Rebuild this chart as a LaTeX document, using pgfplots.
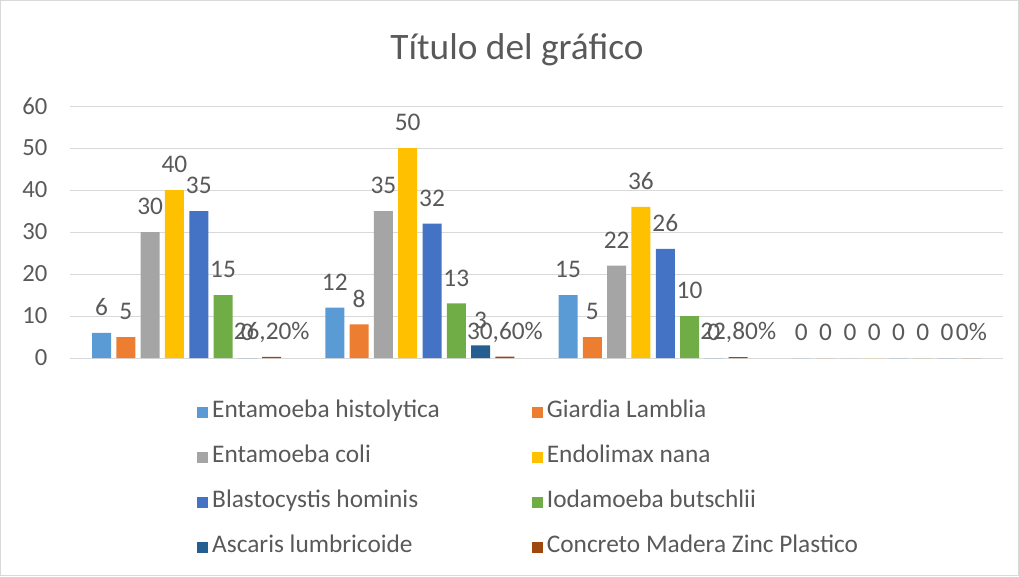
\documentclass[border=0pt]{standalone}
\usepackage{pgfplots}
\pgfplotsset{compat=1.18}
\usepackage{fontspec}
\setmainfont{Carlito}
\newlength\PX \setlength\PX{0.75pt}
\definecolor{c1}{HTML}{5B9BD5}
\definecolor{c2}{HTML}{ED7D31}
\definecolor{c3}{HTML}{A5A5A5}
\definecolor{c4}{HTML}{FFC000}
\definecolor{c5}{HTML}{4472C4}
\definecolor{c6}{HTML}{70AD47}
\definecolor{c7}{HTML}{255E91}
\definecolor{c8}{HTML}{9E480E}
\definecolor{txt}{HTML}{595959}
\definecolor{grd}{HTML}{D9D9D9}
\begin{document}
\begin{tikzpicture}
\useasboundingbox (0,0) rectangle (1019\PX,576\PX);
\draw[grd, line width=1\PX] (0.5\PX,0.5\PX) rectangle (1018.5\PX,575.5\PX);
\node[text=txt, font=\fontsize{28}{34}\selectfont] at (517\PX,526\PX) {Título del gráfico};
\begin{axis}[
  at={(70\PX,218\PX)}, anchor=south west, scale only axis,
  width=933\PX, height=252\PX,
  xmin=-0.5, xmax=3.5, ymin=0, ymax=60, ytick={0,10,...,60}, xtick=\empty,
  axis line style={draw=none}, major tick length=0pt,
  ymajorgrids, grid style={grd, line width=1\PX},
  /pgf/number format/assume math mode=true,
  yticklabel style={font=\fontsize{18.5}{22}\selectfont, text=txt, anchor=east, xshift=-18\PX},
  ybar, bar width=19\PX,
  nodes near coords,
  every node near coord/.append style={font=\fontsize{19}{23}\selectfont, text=txt, anchor=south, inner sep=0pt, text depth=0pt, yshift=17\PX},
  legend columns=2, legend cell align=left,
  legend image code/.code={\fill[#1, draw=none] (0pt,-5.5\PX) rectangle (11\PX,5.5\PX);},
  legend style={at={(0.1361,-0.1746)}, anchor=north west, draw=none, fill=none, inner sep=0pt,
    row sep=25\PX, font=\fontsize{19}{23}\selectfont, text=txt,
    nodes={inner sep=0pt, text height=15\PX, text depth=5\PX},
    /tikz/every odd column/.style={column sep=4\PX},
    /tikz/column 2/.style={column sep=92\PX}},
]
\addplot[fill=c1, draw=none, bar shift=-85.05\PX] coordinates {(0,6) (1,12) (2,15) (3,0)};
\addlegendentry{Entamoeba histolytica}
\addplot[fill=c2, draw=none, bar shift=-60.75\PX] coordinates {(0,5) (1,8) (2,5) (3,0)};
\addlegendentry{Giardia Lamblia}
\addplot[fill=c3, draw=none, bar shift=-36.45\PX] coordinates {(0,30) (1,35) (2,22) (3,0)};
\addlegendentry{Entamoeba coli}
\addplot[fill=c4, draw=none, bar shift=-12.15\PX] coordinates {(0,40) (1,50) (2,36) (3,0)};
\addlegendentry{Endolimax nana}
\addplot[fill=c5, draw=none, bar shift=12.15\PX] coordinates {(0,35) (1,32) (2,26) (3,0)};
\addlegendentry{Blastocystis hominis}
\addplot[fill=c6, draw=none, bar shift=36.45\PX] coordinates {(0,15) (1,13) (2,10) (3,0)};
\addlegendentry{Iodamoeba butschlii}
\addplot[fill=c7, draw=none, bar shift=60.75\PX] coordinates {(0,0) (1,3) (2,0) (3,0)};
\addlegendentry{Ascaris lumbricoide}
\addplot[fill=c8, draw=none, bar shift=85.05\PX, point meta=explicit symbolic] coordinates {(0,0.262) [26,20\%] (1,0.306) [30,60\%] (2,0.228) [22,80\%] (3,0) [0\%]};
\addlegendentry{Concreto Madera Zinc Plastico}
\end{axis}
\end{tikzpicture}
\end{document}
